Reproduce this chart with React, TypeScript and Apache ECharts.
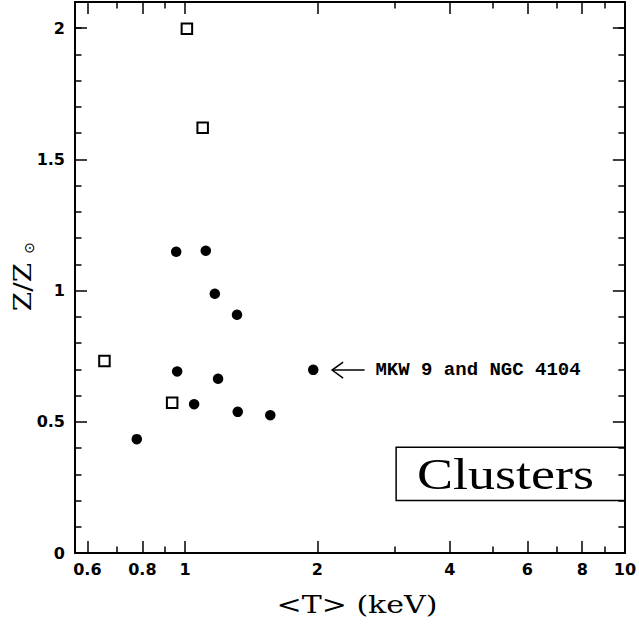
import React, { useEffect, useRef } from "react";
import * as echarts from "echarts";

// Axis ranges (T in keV on a logarithmic axis, Z/Zsun linear)
const X_MIN_T = 0.5623;
const X_MAX_T = 10;
const Y_MIN = 0;
const Y_MAX = 2.1;

// Tick values
const xMajorTicks = [0.6, 0.8, 1, 2, 4, 6, 8, 10];
const xMinorTicks = [0.7, 0.9, 3, 5, 7, 9];
const yMajorTicks = [0, 0.5, 1, 1.5, 2];
const yMinorTicks = [0.1, 0.2, 0.3, 0.4, 0.6, 0.7, 0.8, 0.9, 1.1, 1.2, 1.3, 1.4, 1.6, 1.7, 1.8, 1.9, 2.0];

// Filled circles
const circleT = [0.955, 1.115, 1.169, 1.313, 0.96, 1.189, 1.957, 1.049, 1.318, 1.563, 0.777];
const circleZ = [1.148, 1.152, 0.988, 0.908, 0.692, 0.664, 0.698, 0.567, 0.538, 0.525, 0.434];

// Open squares
const squareT = [1.01, 1.097, 0.656, 0.935];
const squareZ = [1.998, 1.621, 0.732, 0.573];

// Annotation anchors (data units)
const arrowT = [2.16, 2.56];
const arrowZ = 0.697;
const labelT = 2.71;
const labelText = "MKW 9 and NGC 4104";
const boxT = [3.02, 10];
const boxZ = [0.2, 0.403];
const boxText = "Clusters";

const lg = (v: number) => Math.log10(v);

const tickFont = {
  fontFamily: "DejaVu Sans",
  fontWeight: "bold" as const,
  fontSize: 16,
  color: "#000",
};

function xAxisDef(position: "top" | "bottom", ticks: number[], len: number, showLine: boolean, showLabel: boolean) {
  return {
    type: "value",
    position,
    min: lg(X_MIN_T),
    max: lg(X_MAX_T),
    splitLine: { show: false },
    axisLine: { show: showLine, onZero: false, lineStyle: { color: "#000", width: 2 } },
    axisTick: {
      show: true,
      inside: true,
      length: len,
      customValues: ticks.map(lg),
      lineStyle: { color: "#000", width: 1.5 },
    },
    axisLabel: {
      show: showLabel,
      customValues: ticks.map(lg),
      margin: 8,
      ...tickFont,
      formatter: (v: number) => String(Math.round(Math.pow(10, v) * 10) / 10),
    },
  };
}

function yAxisDef(position: "left" | "right", ticks: number[], len: number, showLine: boolean, showLabel: boolean) {
  return {
    type: "value",
    position,
    min: Y_MIN,
    max: Y_MAX,
    splitLine: { show: false },
    axisLine: { show: showLine, onZero: false, lineStyle: { color: "#000", width: 2 } },
    axisTick: {
      show: true,
      inside: true,
      length: len,
      customValues: ticks,
      lineStyle: { color: "#000", width: 1.5 },
    },
    axisLabel: {
      show: showLabel,
      customValues: ticks,
      margin: 10,
      ...tickFont,
      formatter: (v: number) => String(Math.round(v * 10) / 10),
    },
  };
}

export default function App() {
  const ref = useRef<HTMLDivElement>(null);

  useEffect(() => {
    document.body.style.margin = "0";
    if (!ref.current) return;
    const chart = echarts.init(ref.current, undefined, { renderer: "svg" });

    const option: any = {
      animation: false,
      backgroundColor: "#fff",
      grid: { left: 75, right: 13, top: 2, bottom: 71, containLabel: false },
      xAxis: [
        xAxisDef("bottom", xMajorTicks, 12, true, true),
        xAxisDef("bottom", xMinorTicks, 6.5, false, false),
        xAxisDef("top", xMajorTicks, 12, true, false),
        xAxisDef("top", xMinorTicks, 6.5, false, false),
      ],
      yAxis: [
        yAxisDef("left", yMajorTicks, 12, true, true),
        yAxisDef("left", yMinorTicks, 6.5, false, false),
        yAxisDef("right", yMajorTicks, 12, true, false),
        yAxisDef("right", yMinorTicks, 6.5, false, false),
      ],
      graphic: [
        {
          type: "text",
          x: 357,
          y: 605,
          scaleX: 1.25,
          style: {
            text: "<T> (keV)",
            fontFamily: "DejaVu Serif",
            fontSize: 24,
            fill: "#000",
            align: "center",
            verticalAlign: "middle",
          },
        },
        {
          type: "text",
          x: 22,
          y: 287,
          rotation: Math.PI / 2,
          scaleX: 1.12,
          style: {
            text: "Z/Z",
            fontFamily: "DejaVu Serif",
            fontSize: 25,
            fill: "#000",
            align: "center",
            verticalAlign: "middle",
          },
        },
        {
          type: "text",
          x: 29,
          y: 248,
          rotation: Math.PI / 2,
          style: {
            text: "⊙",
            fontFamily: "DejaVu Sans",
            fontSize: 14,
            fill: "#000",
            align: "center",
            verticalAlign: "middle",
          },
        },
      ],
      series: [
        {
          type: "scatter",
          xAxisIndex: 0,
          yAxisIndex: 0,
          symbol: "circle",
          symbolSize: 10.5,
          itemStyle: { color: "#000", opacity: 1 },
          data: circleT.map((t, i) => [lg(t), circleZ[i]]),
        },
        {
          type: "scatter",
          xAxisIndex: 0,
          yAxisIndex: 0,
          symbol: "rect",
          symbolSize: 10.5,
          itemStyle: { color: "#fff", borderColor: "#000", borderWidth: 2, opacity: 1 },
          data: squareT.map((t, i) => [lg(t), squareZ[i]]),
        },
        {
          type: "custom",
          xAxisIndex: 0,
          yAxisIndex: 0,
          silent: true,
          clip: false,
          data: [[0, 1]],
          renderItem: (_params: any, api: any) => {
            const head = api.coord([lg(arrowT[0]), arrowZ]);
            const tail = api.coord([lg(arrowT[1]), arrowZ]);
            const lab = api.coord([lg(labelT), arrowZ]);
            const b0 = api.coord([lg(boxT[0]), boxZ[1]]);
            const b1 = api.coord([lg(boxT[1]), boxZ[0]]);
            return {
              type: "group",
              children: [
                {
                  type: "line",
                  shape: { x1: head[0], y1: head[1], x2: tail[0], y2: tail[1] },
                  style: { stroke: "#000", lineWidth: 1.5 },
                },
                {
                  type: "polyline",
                  shape: {
                    points: [
                      [head[0] + 11, head[1] - 8],
                      [head[0], head[1]],
                      [head[0] + 11, head[1] + 8],
                    ],
                  },
                  style: { stroke: "#000", fill: "none", lineWidth: 1.5 },
                },
                {
                  type: "text",
                  x: lab[0],
                  y: lab[1],
                  style: {
                    text: labelText,
                    fontFamily: "Liberation Mono",
                    fontWeight: "bold",
                    fontSize: 19,
                    fill: "#000",
                    align: "left",
                    verticalAlign: "middle",
                  },
                },
                {
                  type: "rect",
                  shape: { x: b0[0], y: b0[1], width: b1[0] - b0[0], height: b1[1] - b0[1] },
                  style: { stroke: "#000", fill: "none", lineWidth: 1.5 },
                },
                {
                  type: "text",
                  x: (b0[0] + b1[0]) / 2 - 5,
                  y: (b0[1] + b1[1]) / 2,
                  scaleX: 1.2,
                  style: {
                    text: boxText,
                    fontFamily: "Liberation Serif",
                    fontSize: 45,
                    fill: "#000",
                    align: "center",
                    verticalAlign: "middle",
                  },
                },
              ],
            };
          },
        },
      ],
    };

    chart.setOption(option);
    return () => chart.dispose();
  }, []);

  return <div ref={ref} style={{ width: 639, height: 624 }} />;
}
